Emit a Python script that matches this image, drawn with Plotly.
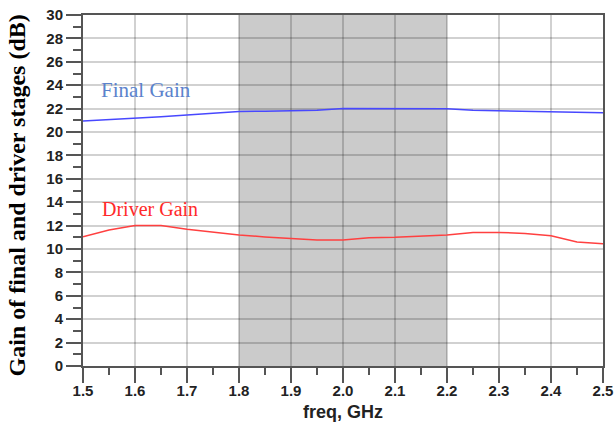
import plotly.graph_objects as go

freq = [1.50, 1.55, 1.60, 1.65, 1.70, 1.75, 1.80, 1.85, 1.90, 1.95, 2.00,
        2.05, 2.10, 2.15, 2.20, 2.25, 2.30, 2.35, 2.40, 2.45, 2.50]
final_gain = [20.95, 21.05, 21.2, 21.3, 21.45, 21.6, 21.75, 21.78, 21.82, 21.86, 22.0,
              22.0, 22.0, 22.0, 21.98, 21.85, 21.82, 21.8, 21.72, 21.68, 21.65]
driver_gain = [11.05, 11.62, 12.0, 12.0, 11.68, 11.42, 11.2, 11.03, 10.88, 10.77, 10.77,
               10.97, 11.0, 11.13, 11.2, 11.4, 11.42, 11.33, 11.13, 10.6, 10.45]
band = [1.8, 2.2]
y_ticks = list(range(0, 31, 2))
x_ticks = [1.5, 1.6, 1.7, 1.8, 1.9, 2.0, 2.1, 2.2, 2.3, 2.4, 2.5]
x_tick_labels = ["1.5", "1.6", "1.7", "1.8", "1.9", "2.0", "2.1", "2.2", "2.3", "2.4", "2.5"]

fig = go.Figure()
fig.add_shape(type="rect", xref="x", yref="y", x0=band[0], x1=band[1], y0=0, y1=30,
              fillcolor="#cbcbcb", line=dict(width=0), layer="below")
fig.add_trace(go.Scatter(x=freq, y=final_gain, mode="lines",
                         line=dict(color="#4848ff", width=1.5)))
fig.add_trace(go.Scatter(x=freq, y=driver_gain, mode="lines",
                         line=dict(color="#ff4040", width=1.5)))

fig.add_annotation(x=1.531, y=23.6, xref="x", yref="y", text="Final Gain", showarrow=False,
                   xanchor="left", yanchor="middle",
                   font=dict(family="Liberation Serif", size=21, color="#5b82cc"))
fig.add_annotation(x=1.533, y=13.45, xref="x", yref="y", text="Driver Gain", showarrow=False,
                   xanchor="left", yanchor="middle",
                   font=dict(family="Liberation Serif", size=20, color="#ff2a2a"))

fig.add_annotation(x=0, y=0.5, xref="paper", yref="paper", xshift=-67, yshift=-5,
                   text="<b>Gain of final and driver stages (dB)</b>", textangle=-90,
                   showarrow=False, xanchor="center", yanchor="middle",
                   font=dict(family="Liberation Serif", size=24, color="black"))
fig.add_annotation(x=0.5, y=0, xref="paper", yref="paper", yshift=-46,
                   text="<b>freq, GHz</b>", showarrow=False, xanchor="center", yanchor="middle",
                   font=dict(family="Liberation Sans", size=18, color="#222"))

fig.update_layout(
    width=615, height=431,
    margin=dict(l=83, r=12, t=15, b=65),
    paper_bgcolor="white", plot_bgcolor="rgba(0,0,0,0)",
    showlegend=False,
)
fig.update_xaxes(
    range=[1.5, 2.5], tickvals=x_ticks, ticktext=x_tick_labels, automargin=False,
    ticks="outside", ticklen=15, tickwidth=1.5, tickcolor="#555",
    ticklabelstandoff=-5,
    showline=True, linecolor="#555", linewidth=2, mirror=True,
    showgrid=True, gridcolor="rgba(0,0,0,0.18)", gridwidth=2,
    zeroline=False,
    tickfont=dict(family="Liberation Sans", size=15, color="#222", weight="bold"),
    minor=dict(dtick=0.05, tick0=1.5, ticks="outside", ticklen=7, tickcolor="#555",
               tickwidth=1.5, showgrid=False),
)
fig.update_yaxes(
    range=[0, 30], tickvals=y_ticks, automargin=False,
    ticks="outside", ticklen=15, tickwidth=1.5, tickcolor="#555",
    showline=True, linecolor="#555", linewidth=2, mirror=True,
    showgrid=True, gridcolor="rgba(0,0,0,0.18)", gridwidth=2,
    zeroline=False,
    tickfont=dict(family="Liberation Sans", size=15, color="#222", weight="bold"),
    minor=dict(dtick=1, tick0=0, ticks="outside", ticklen=8, tickcolor="#555",
               tickwidth=1.5, showgrid=False),
)

fig.write_html("out.html")
